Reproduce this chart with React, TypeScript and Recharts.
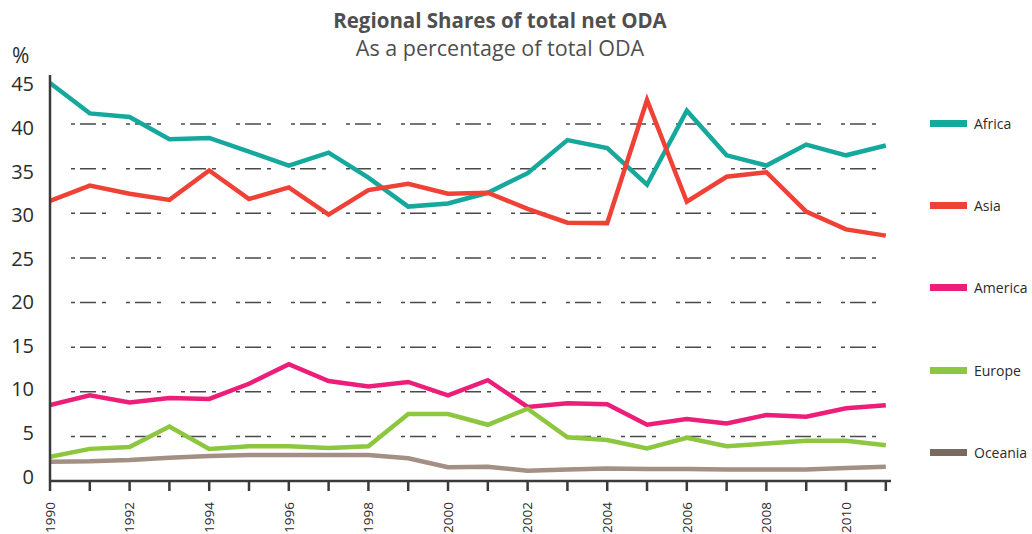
import React from "react";
import { LineChart, Line, XAxis, YAxis, CartesianGrid, Legend } from "recharts";

const years = [
  1990, 1991, 1992, 1993, 1994, 1995, 1996, 1997, 1998, 1999, 2000,
  2001, 2002, 2003, 2004, 2005, 2006, 2007, 2008, 2009, 2010, 2011,
];
const africa = [44.6, 41.2, 40.8, 38.3, 38.45, 36.9, 35.35, 36.8, 34.0, 30.75, 31.1, 32.3, 34.5, 38.2, 37.3, 33.2, 41.5, 36.5, 35.35, 37.7, 36.5, 37.6];
const asia = [31.4, 33.1, 32.2, 31.5, 34.8, 31.6, 32.9, 29.85, 32.6, 33.3, 32.2, 32.3, 30.5, 28.95, 28.9, 42.7, 31.3, 34.1, 34.6, 30.2, 28.2, 27.5];
const america = [8.5, 9.6, 8.8, 9.3, 9.2, 10.9, 13.1, 11.2, 10.6, 11.1, 9.6, 11.3, 8.3, 8.7, 8.6, 6.3, 6.95, 6.45, 7.4, 7.2, 8.15, 8.5];
const europe = [2.7, 3.6, 3.8, 6.1, 3.6, 3.9, 3.9, 3.7, 3.9, 7.5, 7.5, 6.3, 8.1, 4.9, 4.6, 3.65, 4.85, 3.9, 4.2, 4.5, 4.5, 4.0];
const oceania = [2.15, 2.2, 2.35, 2.6, 2.8, 2.9, 2.9, 2.9, 2.9, 2.55, 1.55, 1.6, 1.15, 1.3, 1.4, 1.35, 1.35, 1.3, 1.3, 1.3, 1.45, 1.6];

const yTicks = [0, 5, 10, 15, 20, 25, 30, 35, 40, 45];
const gridValues = [5, 10, 15, 20, 25, 30, 35, 40];

const series = [
  { key: "Africa", color: "#16a89c", swatch: "#16a89c" },
  { key: "Asia", color: "#ef4136", swatch: "#ef4136" },
  { key: "America", color: "#ec1e79", swatch: "#ec1e79" },
  { key: "Europe", color: "#8dc63f", swatch: "#8dc63f" },
  { key: "Oceania", color: "#a38f83", swatch: "#786a5e" },
];

const data = years.map((year, i) => ({
  year,
  Africa: africa[i],
  Asia: asia[i],
  America: america[i],
  Europe: europe[i],
  Oceania: oceania[i],
}));

const FONT = "'Open Sans', sans-serif";
const AXIS = "#3a3a3a";

// the original's labels sit on a slightly tighter spacing than its gridlines
const YTick = (props: any) => {
  const { x, y, payload } = props;
  const shift = -5 + payload.value * 0.21;
  return (
    <text x={x} y={y + shift} textAnchor="end" dominantBaseline="central" fontSize={20} fill="#2b2b2b" fontFamily={FONT}>
      {payload.value}
    </text>
  );
};

const XTick = (props: any) => {
  const { x, y, payload } = props;
  if (payload.value % 2 !== 0) return <g />;
  return (
    <g transform={`translate(${x},${y}) rotate(-90)`}>
      <text textAnchor="end" dy="0.36em" fontSize={13.5} fill="#2b2b2b" fontFamily={FONT}>
        {payload.value}
      </text>
    </g>
  );
};

// dash-dot gridline that starts a little right of the axis, like the original
const GridLine = (props: any) => {
  const { x1, x2, y1, y2 } = props;
  return (
    <line
      x1={x1 + 21}
      x2={x2 - 14}
      y1={y1}
      y2={y2}
      stroke="#4a4a4a"
      strokeWidth={1.5}
      strokeDasharray="4 5 16 6 4 20"
    />
  );
};

const LegendBox = () => (
  <div style={{ fontFamily: FONT }}>
    {series.map((s) => (
      <div key={s.key} style={{ display: "flex", alignItems: "center", height: 82.3 }}>
        <div style={{ width: 37, height: 7, background: s.swatch, marginRight: 7 }} />
        <span style={{ fontSize: 14, color: "#2b2b2b" }}>{s.key}</span>
      </div>
    ))}
  </div>
);

export default function App() {
  return (
    <div style={{ position: "absolute", left: 0, top: 0, width: 1032, height: 534, background: "#fff" }}>
      <div
        style={{
          position: "absolute",
          left: 0,
          width: 1000,
          top: 7,
          textAlign: "center",
          fontFamily: FONT,
          color: "#4f4f4f",
        }}
      >
        <div style={{ fontSize: 20.5, fontWeight: 700, lineHeight: "26px" }}>Regional Shares of total net ODA</div>
        <div style={{ fontSize: 21.5, lineHeight: "26px", marginTop: 2 }}>As a percentage of total ODA</div>
      </div>
      <div style={{ position: "absolute", left: 12, top: 41, fontSize: 21, fontFamily: FONT, color: "#2b2b2b" }}>%</div>
      <LineChart width={1032} height={534} data={data} margin={{ top: 75, right: 141, bottom: 0, left: 0 }}>
        <CartesianGrid vertical={false} horizontalValues={gridValues} horizontal={GridLine} />
        <XAxis
          dataKey="year"
          type="number"
          domain={[1990, 2011.13]}
          ticks={years}
          interval={0}
          height={53}
          tick={XTick}
          tickSize={10}
          tickMargin={11}
          axisLine={{ stroke: AXIS, strokeWidth: 2.5 }}
          tickLine={{ stroke: AXIS, strokeWidth: 2.5 }}
          allowDataOverflow
        />
        <YAxis
          width={50}
          domain={[0, 45.5]}
          ticks={yTicks}
          interval={0}
          tick={YTick}
          tickLine={false}
          tickSize={6}
          tickMargin={10}
          axisLine={{ stroke: AXIS, strokeWidth: 2.5 }}
          allowDataOverflow
        />
        <Legend
          layout="vertical"
          align="center"
          verticalAlign="middle"
          content={LegendBox}
          wrapperStyle={{ left: 930, top: 82, width: 100 }}
        />
        {series.map((s) => (
          <Line
            key={s.key}
            type="linear"
            dataKey={s.key}
            stroke={s.color}
            strokeWidth={4.5}
            dot={false}
            activeDot={false}
            isAnimationActive={false}
          />
        ))}
      </LineChart>
    </div>
  );
}
